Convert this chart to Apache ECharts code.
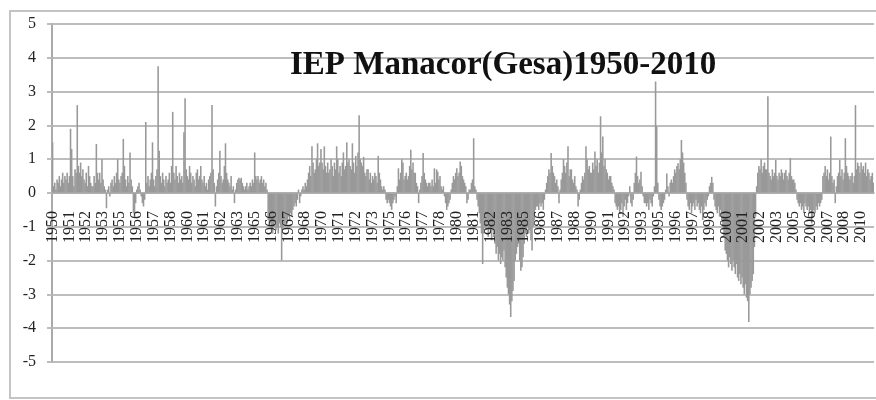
<!DOCTYPE html>
<html>
<head>
<meta charset="utf-8">
<script src="https://cdn.jsdelivr.net/npm/echarts@6/dist/echarts.min.js"></script>
<style>
  html, body { margin: 0; padding: 0; background: #fff; }
  #chart { width: 876px; height: 400px; }
</style>
</head>
<body>
<div id="chart"></div>
<script>
// IEP Manacor (Gesa), valores mensuales 1950-2010 (una fila = un año)
const startYear = 1950;

const v1950s = [
  1.5, 0.2, 0.3, 0.1, 0.4, 0.3, 0.5, 0.2, 0.4, 0.6, 0.3, 0.5,
  0.4, 0.6, 0.3, 0.5, 1.9, 1.3, 0.5, 0.2, 0.7, 0.6, 2.6, 0.8,
  0.6, 0.9, 0.5, 0.7, 0.4, 0.3, 0.6, 0.2, 0.8, 0.5, 0.3, 0.2,
  0.2, 0.5, 0.3, 1.45, 0.6, 0.4, 0.6, 0.3, 1.0, 0.4, 0.2, 0.1,
  -0.45, 0.1, 0.2, -0.1, 0.3, 0.4, 0.2, 0.5, 0.3, 0.6, 1.0, 0.4,
  0.3, 0.5, 0.6, 1.6, 0.8, 0.4, 0.2, 0.5, 0.3, 1.2, 0.4, 0.2,
  -0.6, -0.7, -0.3, 0.1, 0.2, 0.3, 0.1, -0.1, -0.3, -0.4, -0.2, 2.1,
  0.3, 0.5, 0.2, 0.4, 0.6, 1.5, 0.4, 0.2, 0.5, 0.7, 3.75, 1.25,
  0.5, 0.3, 0.6, 0.4, 0.2, 0.5, 0.3, 0.4, 0.6, 0.3, 0.8, 2.4,
  0.6, 0.4, 0.8, 0.5, 0.3, 0.6, 0.4, 0.5, 0.3, 1.8, 2.8, 0.7,
];
const v1960s = [
  0.5, 0.4, 0.8, 0.6, 0.3, 0.5, 0.4, 0.2, 0.6, 0.7, 0.4, 0.5,
  0.8, 0.4, 0.3, 0.5, 0.2, 0.3, 0.1, 0.4, 0.5, 0.6, 2.6, 0.7,
  0.3, -0.4, 0.2, 0.4, 0.6, 1.25, 0.5, 0.3, 0.4, 0.8, 1.47, 0.6,
  0.4, 0.3, 0.2, 0.5, 0.1, 0.2, -0.3, 0.1, 0.3, 0.4, 0.45, 0.4,
  0.45, 0.3, 0.2, 0.1, 0.2, 0.3, 0.1, 0.2, 0.3, 0.2, 0.4, 0.3,
  1.2, 0.5, 0.4, 0.5, 0.3, 0.4, 0.5, 0.3, 0.4, 0.2, 0.3, 0.1,
  -0.8, -1.0, -0.9, -1.1, -1.2, -1.0, -0.9, -1.1, -1.0, -1.2, -0.9, -1.0,
  -2.0, -1.1, -0.9, -1.0, -0.8, -0.9, -0.7, -0.8, -0.6, -0.7, -0.5, -0.4,
  -0.3, -0.4, -0.2, 0.1, -0.3, -0.1, 0.1, 0.2, 0.1, 0.3, 0.2, 0.4,
  0.6, 0.8, 0.5, 1.38, 0.9, 0.6, 0.7, 1.0, 1.47, 0.8, 0.9, 1.3,
];
const v1970s = [
  0.9, 0.7, 1.38, 0.8, 0.6, 0.9, 0.6, 0.7, 1.0, 0.8, 0.5, 0.9,
  0.7, 1.38, 1.0, 0.6, 0.8, 0.5, 0.9, 1.2, 0.7, 0.8, 1.5, 0.9,
  1.0, 0.8, 0.7, 1.47, 0.9, 0.6, 1.1, 0.8, 1.2, 2.3, 1.0, 0.9,
  0.8, 1.07, 0.6, 0.5, 0.7, 0.7, 0.4, 0.6, 0.3, 0.5, 0.4, 0.6,
  0.5, 0.3, 1.1, 0.6, 0.4, 0.2, 0.1, 0.2, 0.1, -0.2, -0.3, -0.2,
  -0.3, -0.4, -0.5, -0.3, -0.2, -0.1, -0.3, 0.2, 0.73, 0.4, 0.6, 1.0,
  0.9, 0.4, 0.5, 0.6, 0.4, 0.5, 0.8, 1.28, 0.7, 0.9, 0.6, 0.6,
  0.3, 0.2, -0.3, 0.1, 0.3, 0.5, 1.18, 0.6, 0.4, 0.3, 0.2, 0.3,
  0.3, 0.2, 0.4, 0.2, 0.73, 0.3, 0.7, 0.63, 0.4, 0.5, 0.2, 0.1,
  0.2, -0.1, -0.3, -0.5, -0.4, -0.3, -0.2, 0.1, 0.3, 0.5, 0.4, 0.6,
];
const v1980s = [
  0.73, 0.5, 0.6, 0.93, 0.8, 0.5, 0.4, 0.3, 0.2, -0.3, -0.2, 0.1,
  0.1, 0.3, 0.4, 1.62, 0.2, 0.1, -0.2, -0.4, -0.6, -0.9, -1.2, -2.1,
  -1.2, -1.0, -1.1, -0.9, -1.3, -1.0, -1.2, -1.4, -1.1, -1.3, -1.5, -1.8,
  -1.6, -2.0, -1.8, -2.1, -1.9, -2.0, -1.7, -2.2, -2.5, -2.8, -3.0, -3.3,
  -3.67, -3.2, -2.9, -2.6, -2.0, -1.8, -1.6, -1.5, -2.0, -2.3, -2.2, -1.9,
  -1.5, -1.2, -1.3, -1.0, -1.2, -1.1, -1.4, -1.7, -1.0, -0.8, -0.5, -0.4,
  -0.4, -0.5, -0.3, -0.4, -0.3, -0.5, -0.2, 0.1, 0.3, 0.5, 0.7, 0.6,
  1.18, 0.8, 0.6, 0.5, 0.3, 0.4, 0.2, -0.3, 0.1, 0.4, 0.6, 1.0,
  0.8, 0.6, 0.9, 1.38, 0.5, 0.7, 0.7, 0.4, 0.3, 0.5, 0.2, 0.1,
  -0.4, -0.2, 0.1, 0.3, 0.5, 0.4, 0.6, 1.38, 1.0, 0.7, 0.8, 0.6,
];
const v1990s = [
  0.6, 0.9, 0.7, 1.23, 0.8, 1.0, 0.6, 0.9, 2.27, 1.2, 1.67, 0.8,
  1.0, 0.7, 0.6, 0.4, 0.5, 0.5, 0.3, 0.2, 0.1, -0.3, -0.4, -0.5,
  -0.4, -0.6, -0.5, -0.3, -0.7, -0.4, -0.2, -0.5, -0.3, -0.1, 0.2, -0.3,
  -0.4, -0.2, 0.3, 0.6, 1.08, 0.5, 0.3, 0.4, 0.63, 0.2, -0.1, -0.3,
  -0.3, -0.4, -0.3, -0.5, -0.2, -0.3, -0.4, -0.1, 0.2, 3.3, 1.97, 0.3,
  -0.2, -0.4, -0.5, -0.4, -0.3, -0.2, 0.1, 0.58, 0.2, -0.1, 0.3, 0.4,
  0.3, 0.5, 0.7, 0.6, 0.8, 0.88, 0.7, 1.0, 1.57, 1.2, 0.9, 0.6,
  0.3, -0.2, -0.4, -0.5, -0.3, -0.6, -0.4, -0.3, -0.5, -0.2, -0.4, -0.3,
  -0.5, -0.6, -0.4, -0.8, -0.5, -0.3, -0.4, -0.2, -0.1, 0.2, 0.3, 0.48,
  0.3, -0.2, -0.4, -0.5, -0.6, -0.4, -0.7, -0.5, -0.8, -1.0, -1.3, -1.7,
];
const v2000s = [
  -1.8, -2.0, -2.2, -1.9, -2.1, -2.3, -2.0, -2.2, -2.4, -2.1, -2.5, -2.6,
  -2.4, -2.7, -2.5, -2.8, -3.0, -2.7, -3.1, -3.2, -3.82, -3.0, -2.8, -2.6,
  -2.4, -1.6, -0.7, 0.2, 0.6, 0.8, 0.7, 1.0, 0.6, 0.8, 0.9, 0.7,
  0.7, 2.86, 0.6, 0.5, 0.4, 0.7, 0.5, 0.6, 0.98, 0.5, 0.4, 0.6,
  0.5, 0.7, 0.6, 0.4, 0.6, 0.68, 0.5, 0.4, 0.6, 1.03, 0.5, 0.4,
  0.4, 0.3, 0.1, -0.2, -0.3, -0.4, -0.3, -0.5, -0.4, -0.6, -0.3, -0.4,
  -0.5, -0.4, -0.6, -0.5, -0.9, -0.7, -0.5, -0.6, -0.4, -0.5, -0.3, -0.4,
  -0.3, -0.2, 0.5, 0.6, 0.8, 0.5, 0.7, 0.4, 0.6, 1.67, 0.5, 0.3,
  0.4, -0.3, 0.2, 0.5, 0.6, 0.98, 0.5, 0.7, 0.4, 0.6, 1.62, 0.8,
  0.6, 0.5, 0.4, 0.5, 0.6, 0.3, 0.5, 2.6, 0.7, 0.9, 0.8, 0.6,
];
const v2010 = [0.9, 0.7, 0.8, 0.6, 0.9, 0.5, 0.7, 0.6, 0.4, 0.5, 0.6, 0.3];

const values = [...v1950s, ...v1960s, ...v1970s, ...v1980s, ...v1990s, ...v2000s, ...v2010];
const months = values.map((_, i) => `${startYear + Math.floor(i / 12)}-${(i % 12) + 1}`);

const serif = '"Liberation Serif", "DejaVu Serif", serif';
const gridColor = '#bdbdbd';
const barColor = '#999999';

const chart = echarts.init(document.getElementById('chart'), null, { renderer: 'canvas' });
chart.setOption({
  animation: false,
  backgroundColor: '#fff',
  title: {
    text: 'IEP Manacor(Gesa)1950-2010',
    left: 285,
    top: 44,
    textStyle: { fontFamily: serif, fontWeight: 'bold', fontSize: 33, color: '#111' },
  },
  graphic: [{
    type: 'rect',
    shape: { x: 10, y: 11, width: 880, height: 387 },
    style: { fill: 'none', stroke: '#c4c4c4', lineWidth: 2 },
    silent: true,
  }],
  grid: { left: 52, right: 2, top: 24, bottom: 38 },
  xAxis: {
    type: 'category',
    data: months,
    boundaryGap: true,
    z: 5,
    // etiquetas sobre la línea del cero (grid de 338 px, cero en el centro)
    offset: -169,
    axisLine: { onZero: false, lineStyle: { color: '#aaa', width: 1.5 } },
    axisTick: { show: false },
    axisLabel: {
      interval: 14,
      rotate: 90,
      margin: 18,
      fontFamily: serif,
      fontSize: 16,
      color: '#222',
      formatter: (v) => v.split('-')[0],
    },
  },
  yAxis: {
    type: 'value',
    min: -5,
    max: 5,
    interval: 1,
    axisLine: { show: true, lineStyle: { color: '#aaa', width: 2 } },
    axisTick: { show: true, length: 5, lineStyle: { color: gridColor, width: 2 } },
    axisLabel: { fontFamily: serif, fontSize: 16, color: '#222', margin: 16 },
    splitLine: { lineStyle: { color: gridColor, width: 2 } },
  },
  series: [{
    type: 'bar',
    data: values,
    barWidth: '140%',
    barGap: '-100%',
    itemStyle: { color: barColor },
  }],
});
</script>
</body>
</html>
